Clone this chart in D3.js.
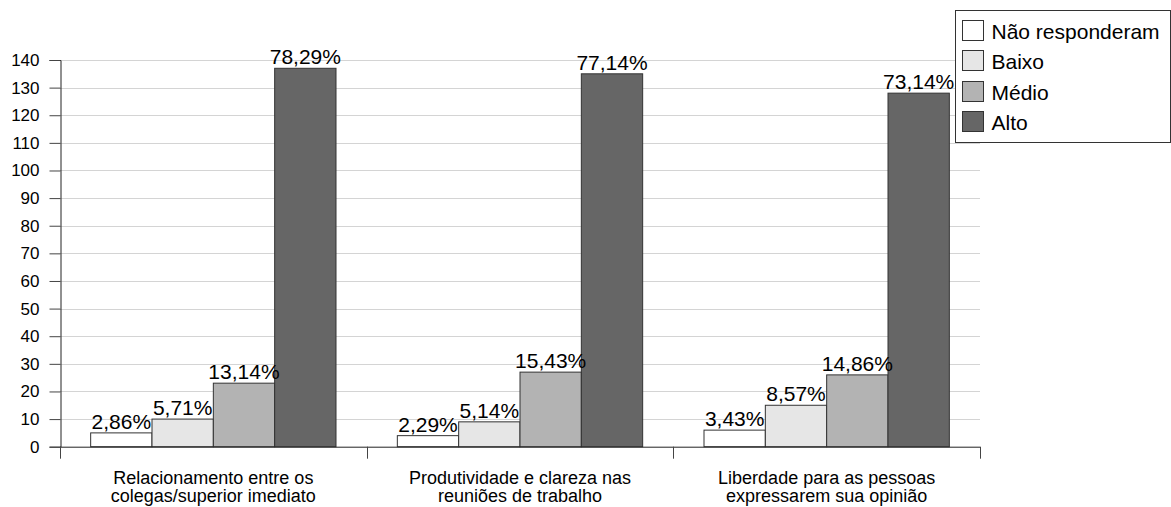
<!DOCTYPE html>
<html>
<head>
<meta charset="utf-8">
<script src="https://cdn.jsdelivr.net/npm/d3@7"></script>
<style>
  html, body { margin: 0; padding: 0; background: #fff; }
  svg { display: block; font-family: "Liberation Sans", Arial, sans-serif; }
</style>
</head>
<body>
<svg id="chart" width="1171" height="507"></svg>
<script>
// Categories (two-line labels) and respondent counts per level
const categories = [
  ["Relacionamento entre os", "colegas/superior imediato"],
  ["Produtividade e clareza nas", "reuniões de trabalho"],
  ["Liberdade para as pessoas", "expressarem sua opinião"]
];
const seriesNames = ["Não responderam", "Baixo", "Médio", "Alto"];
const seriesColors = ["#ffffff", "#e6e6e6", "#b3b3b3", "#666666"];
const naoResponderam = [5, 4, 6];
const baixo = [10, 9, 15];
const medio = [23, 27, 26];
const alto = [137, 135, 128];
const percentLabels = [
  ["2,86%", "5,71%", "13,14%", "78,29%"],
  ["2,29%", "5,14%", "15,43%", "77,14%"],
  ["3,43%", "8,57%", "14,86%", "73,14%"]
];
const yTicks = [0, 10, 20, 30, 40, 50, 60, 70, 80, 90, 100, 110, 120, 130, 140];

const series = [naoResponderam, baixo, medio, alto];

const svg = d3.select("#chart");
const x0 = 60, x1 = 980, yBase = 446.7, yTop = 60;

const x = d3.scaleBand()
  .domain(d3.range(categories.length))
  .range([x0, x1])
  .paddingInner(0.2)
  .paddingOuter(0.1);

const xs = d3.scaleBand()
  .domain(d3.range(series.length))
  .range([0, x.bandwidth()]);

const y = d3.scaleLinear().domain([0, 140]).range([yBase, yTop]);

// horizontal grid lines
svg.append("g")
  .selectAll("line")
  .data(yTicks.filter(d => d > 0))
  .join("line")
  .attr("x1", x0).attr("x2", x1)
  .attr("y1", d => Math.round(y(d)) + 0.5)
  .attr("y2", d => Math.round(y(d)) + 0.5)
  .attr("stroke", "#d4d4d4")
  .attr("stroke-width", 1);

// y axis
const yAxis = d3.axisLeft(y).tickValues(yTicks).tickSize(11).tickPadding(10);
const gy = svg.append("g").attr("transform", `translate(${x0 + 0.5},0)`).call(yAxis);
gy.select(".domain").attr("stroke", "#222");
gy.selectAll(".tick line").attr("stroke", "#444");
gy.selectAll(".tick text")
  .attr("font-size", 17)
  .attr("fill", "#000")
  .attr("font-family", "Liberation Sans, Arial, sans-serif");

// bars
const groups = svg.append("g")
  .selectAll("g")
  .data(categories.map((c, i) => i))
  .join("g")
  .attr("transform", i => `translate(${x(i)},0)`);

groups.selectAll("rect")
  .data(i => series.map((s, k) => ({ k, v: s[i], label: percentLabels[i][k] })))
  .join("rect")
  .attr("x", d => xs(d.k))
  .attr("y", d => y(d.v))
  .attr("width", xs.bandwidth())
  .attr("height", d => yBase - y(d.v))
  .attr("fill", d => seriesColors[d.k])
  .attr("stroke", "#333")
  .attr("stroke-width", 1);

groups.selectAll("text")
  .data(i => series.map((s, k) => ({ k, v: s[i], label: percentLabels[i][k] })))
  .join("text")
  .attr("x", d => xs(d.k) + xs.bandwidth() / 2)
  .attr("y", d => y(d.v) - 4)
  .attr("text-anchor", "middle")
  .attr("font-size", 21)
  .attr("fill", "#000")
  .text(d => d.label);

// x axis line and category separators
svg.append("line")
  .attr("x1", x0).attr("x2", x1)
  .attr("y1", yBase + 0.5).attr("y2", yBase + 0.5)
  .attr("stroke", "#222");

const sepPositions = d3.range(categories.length + 1).map(i => x0 + i * x.step());
svg.append("g")
  .selectAll("line")
  .data(sepPositions)
  .join("line")
  .attr("x1", d => Math.round(d) + 0.5).attr("x2", d => Math.round(d) + 0.5)
  .attr("y1", yBase).attr("y2", yBase + 12)
  .attr("stroke", "#444");

// category labels
const catText = svg.append("g")
  .selectAll("text")
  .data(categories.map((c, i) => ({ c, i })))
  .join("text")
  .attr("text-anchor", "middle")
  .attr("font-size", 18)
  .attr("fill", "#000");
catText.each(function (d) {
  const t = d3.select(this);
  d.c.forEach((line, j) => {
    t.append("tspan")
      .attr("x", x(d.i) + x.bandwidth() / 2)
      .attr("y", 484 + j * 18)
      .text(line);
  });
});

// legend
const legend = svg.append("g").attr("transform", "translate(955.5,10.5)");
legend.append("rect")
  .attr("width", 215).attr("height", 132)
  .attr("fill", "#fff").attr("stroke", "#333");
const items = legend.selectAll("g")
  .data(seriesNames.map((n, k) => ({ n, k })))
  .join("g")
  .attr("transform", d => `translate(7,${Math.round(9.5 + d.k * 30.5)})`);
items.append("rect")
  .attr("width", 21).attr("height", 20)
  .attr("fill", d => seriesColors[d.k])
  .attr("stroke", "#333");
items.append("text")
  .attr("x", 29).attr("y", 18)
  .attr("font-size", 21)
  .attr("fill", "#000")
  .text(d => d.n);
</script>
</body>
</html>
